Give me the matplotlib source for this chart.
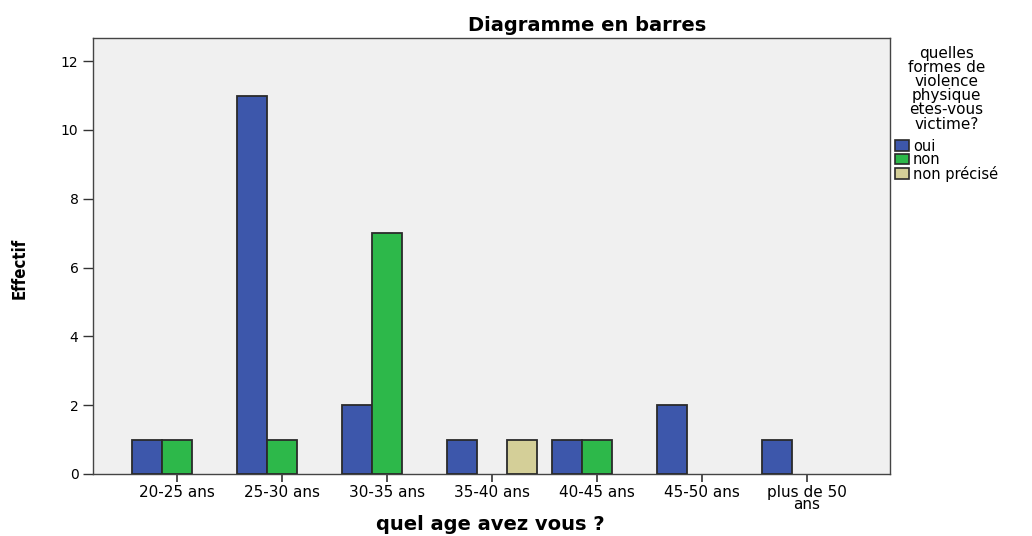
import numpy as np
import matplotlib
matplotlib.use("Agg")
import matplotlib.pyplot as plt
from matplotlib.patches import Patch

# data
age_groups = ["20-25 ans", "25-30 ans", "30-35 ans", "35-40 ans",
              "40-45 ans", "45-50 ans", "plus de 50\nans"]
oui = [1, 11, 2, 1, 1, 2, 1]
non = [1, 1, 7, 0, 1, 0, 0]
non_precise = [0, 0, 0, 1, 0, 0, 0]

series = [("oui", oui, "#3d57ab"),
          ("non", non, "#2db84a"),
          ("non précisé", non_precise, "#d4cf98")]

plt.rcParams['font.family'] = ['DejaVu Sans']

fig = plt.figure(figsize=(10.32, 5.36), dpi=100)
ax = fig.add_axes([0.0901, 0.1157, 0.7723, 0.8133])
ax.set_facecolor("#f0f0f0")

x = np.arange(len(age_groups))
w = 0.285
for i, (name, vals, col) in enumerate(series):
    vals = np.array(vals, dtype=float)
    keep = vals > 0
    ax.bar(x[keep] + (i - 1) * w, vals[keep], width=w, color=col,
           edgecolor="#2a2a2a", linewidth=1.3, zorder=3)

ax.set_xlim(-0.8, 6.79)
ax.set_ylim(0, 12.67)
ax.set_yticks(range(0, 13, 2))
ax.set_xticks(x)
ax.set_xticklabels(age_groups, fontsize=11, linespacing=0.75)
ax.tick_params(axis="y", labelsize=10, length=7, width=1, color="#333333")
ax.tick_params(axis="x", length=6, width=1.2, color="#333333", pad=2)
for s in ax.spines.values():
    s.set_color("#444444")
    s.set_linewidth(1)

fig.text(0.475, 0.012, "quel age avez vous ?", fontsize=14, fontweight="bold",
         ha="center", va="baseline")
fig.text(0.0195, 0.5, "Effectif", rotation=90, fontsize=12, fontweight="bold",
         fontstretch="condensed", va="center", ha="center")
fig.text(0.569, 0.953, "Diagramme en barres", fontsize=14, fontweight="bold",
         ha="center", va="center")

handles = [Patch(facecolor=c, edgecolor="#2a2a2a", linewidth=1.2) for _, _, c in series]
leg = fig.legend(handles, [n for n, _, _ in series],
                 title="quelles\nformes de\nviolence\nphysique\netes-vous\nvictime?",
                 loc="upper left", bbox_to_anchor=(0.864, 0.92), frameon=False,
                 fontsize=10.5, title_fontsize=11, handlelength=1.0, handleheight=0.75,
                 handletextpad=0.25, labelspacing=-0.1, borderpad=0.2, borderaxespad=0)
leg.get_title().set_multialignment("center")
leg.get_title().set_linespacing(0.93)
leg._legend_box.sep = 5

fig.savefig("out.png", dpi=100)
